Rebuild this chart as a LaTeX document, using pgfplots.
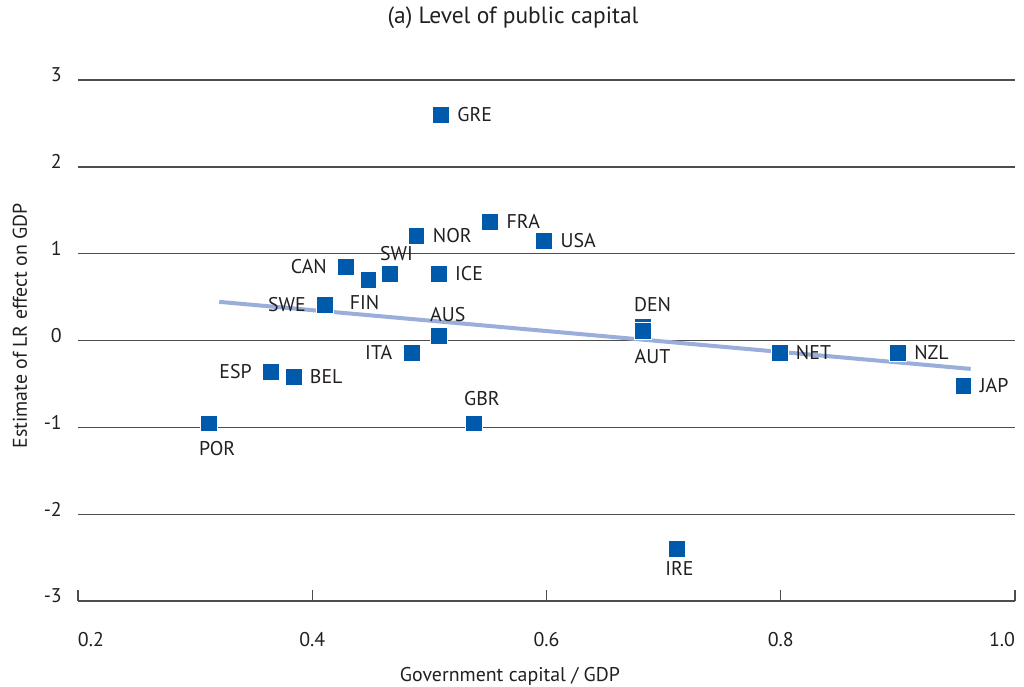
\documentclass[border=0pt]{standalone}
\usepackage{pgfplots}
\usepackage{pgfplotstable}
\pgfplotsset{compat=1.18}
\usepackage{fontspec}
\setmainfont{PT Sans}
\definecolor{txt}{HTML}{231F20}
\definecolor{mk}{HTML}{005AAB}
\definecolor{trend}{HTML}{9AADDB}
\definecolor{gridc}{HTML}{4D4D4D}
\newcommand\lbfont{\fontsize{14.9pt}{17pt}\selectfont}
\newcommand\ttlfont{\fontsize{17.6pt}{20pt}\selectfont}

% labels to the right of the marker
\pgfplotstableread{
x y label dx dy
0.510 2.597 GRE 12 0
0.552 1.368 FRA 12 0
0.598 1.149 USA 12 0
0.489 1.203 NOR 12 0
0.508 0.766 ICE 12 0
0.799 -0.140 NET 12 0
0.900 -0.140 NZL 12 0
0.956 -0.524 JAP 12 0
0.384 -0.417 BEL 12 0
}\rightdata
% labels to the left
\pgfplotstableread{
x y label dx dy
0.429 0.850 CAN -14.3 0
0.411 0.409 SWE -14.3 0
0.365 -0.359 ESP -14.3 0
0.485 -0.140 ITA -14.3 0
}\leftdata
% labels above
\pgfplotstableread{
x y label dx dy
0.466 0.766 SWI 5.25 9.75
0.508 0.055 AUS 6.75 10.5
0.682 0.155 DEN 7.5 11.25
0.538 -0.955 GBR 6 12.75
}\abovedata
% labels below
\pgfplotstableread{
x y label dx dy
0.448 0.697 FIN -3 -11.25
0.682 0.106 AUT 7.5 -13.5
0.312 -0.955 POR 6 -13.25
0.711 -2.398 IRE 2.25 -9.5
}\belowdata

\pgfplotsset{
  lbl/.style={
    only marks, mark=square*, mark size=6.3pt,
    mark options={fill=mk, draw=white, line width=0.6pt},
    nodes near coords, point meta=explicit symbolic,
    visualization depends on={\thisrow{dx}\as\dx},
    visualization depends on={\thisrow{dy}\as\dy},
    every node near coord/.append style={font=\lbfont, text=txt, inner sep=0pt,
      anchor=#1, xshift=\dx pt, yshift=\dy pt},
  }
}

\begin{document}
\begin{tikzpicture}
\begin{axis}[
  scale only axis, width=702.75pt, height=390.75pt,
  at={(0,0)}, anchor=south west,
  xmin=0.2, xmax=1.0, ymin=-3, ymax=3,
  axis lines*=left,
  x axis line style={-, draw=gridc, line width=1pt},
  y axis line style={draw=none},
  xtick={0.2,0.4,0.6,0.8,1.0},
  xticklabels={\makebox[0pt][l]{0.2},0.4,0.6,0.8,\makebox[0pt][r]{1.0}},
  ytick={-3,-2,-1,0,1,2,3},
  yticklabels={-3,-2,-1,0,1,2,3},
  ymajorgrids, major grid style={draw=gridc, line width=1pt},
  tick align=inside, major tick length=8.25pt,
  xtick style={draw=gridc, line width=1pt},
  ytick style={draw=none},
  ticklabel style={font=\lbfont, text=txt, inner sep=0pt},
  xticklabel style={anchor=north, yshift=-23pt},
  yticklabel style={anchor=east, xshift=-12pt, yshift=3.75pt},
  clip=false,
  title={(a) Level of public capital},
  title style={at={(axis description cs:0.4643,1.094)}, anchor=base, font=\ttlfont, text=txt, inner sep=0pt},
  xlabel={Government capital / GDP},
  xlabel style={at={(axis description cs:0.461,-0.1536)}, anchor=base, font=\lbfont, text=txt, inner sep=0pt},
  ylabel={Estimate of LR effect on GDP},
  ylabel style={at={(axis description cs:-0.0619,0.528)}, anchor=center, font=\lbfont, text=txt, inner sep=0pt},
]
\addplot[trend, line width=3pt, no marks] coordinates {(0.3206,0.445) (0.9622,-0.327)};
\addplot[lbl=west] table[x=x, y=y, meta=label] {\rightdata};
\addplot[lbl=east] table[x=x, y=y, meta=label] {\leftdata};
\addplot[lbl=south] table[x=x, y=y, meta=label] {\abovedata};
\addplot[lbl=north] table[x=x, y=y, meta=label] {\belowdata};
\end{axis}
\pgfresetboundingbox
\path (-58.5pt,-63.75pt) rectangle (709.5pt,450.75pt);
\end{tikzpicture}
\end{document}
